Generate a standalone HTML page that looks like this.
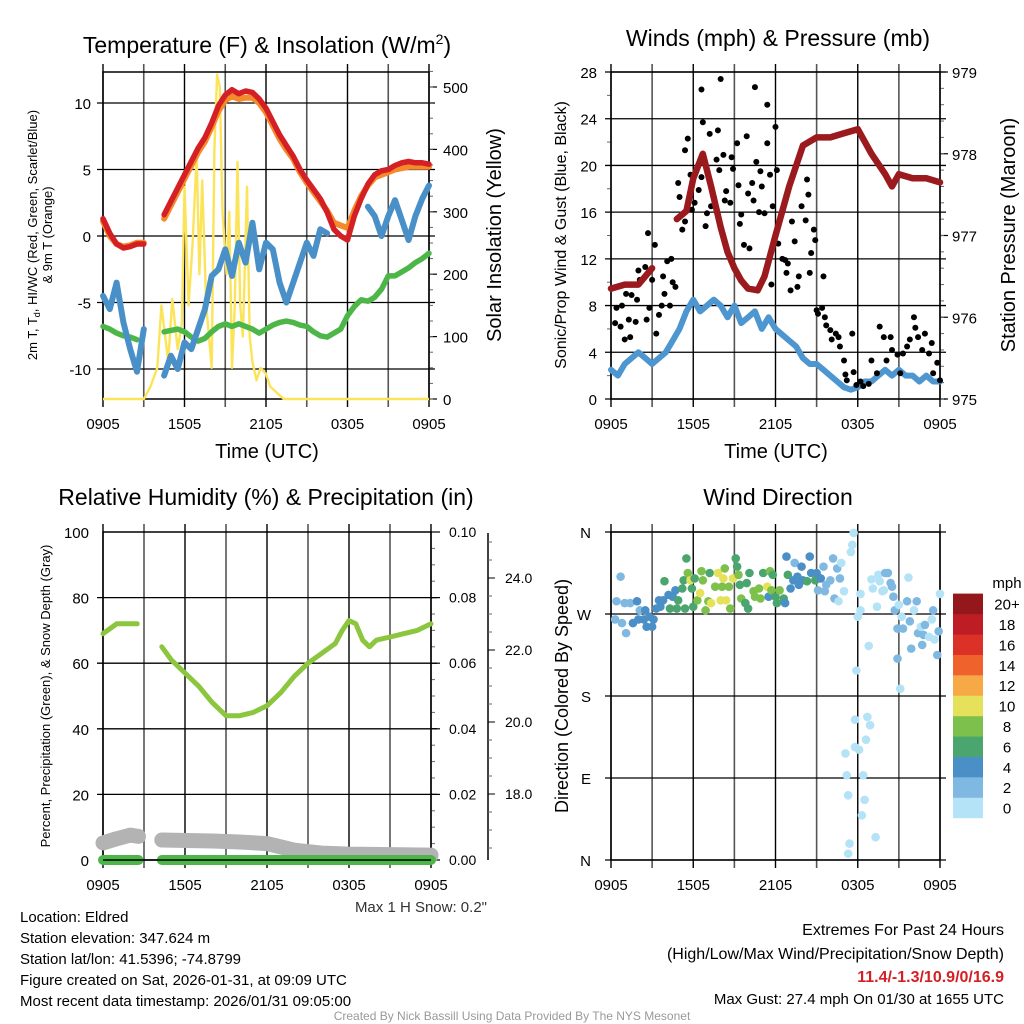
<!DOCTYPE html>
<html><head><meta charset="utf-8"><style>
body{margin:0;background:#fff;}
svg{display:block;font-family:"Liberation Sans",Arial,sans-serif;}
</style></head><body>
<svg id="c" width="1024" height="1024" viewBox="0 0 1024 1024" xmlns="http://www.w3.org/2000/svg"></svg>
<script>
// ---------- DATA ----------
const timeTicks = ["0905","1505","2105","0305","0905"];
const halfHours = [0,0.5,1,1.5,2,2.5,3,3.5,4,4.5,5,5.5,6,6.5,7,7.5,8,8.5,9,9.5,10,10.5,11,11.5,12,12.5,13,13.5,14,14.5,15,15.5,16,16.5,17,17.5,18,18.5,19,19.5,20,20.5,21,21.5,22,22.5,23,23.5,24];
const tempRed = [1.3,0.2,-0.6,-0.9,-0.8,-0.6,-0.6,null,null,1.6,2.6,3.6,4.6,5.6,6.6,7.4,8.5,9.8,10.6,11.0,10.7,10.9,10.8,10.3,9.6,8.6,7.6,6.8,6.0,5.0,4.2,3.5,2.8,1.8,0.5,0.0,-0.3,1.5,2.8,3.9,4.6,4.9,5.0,5.3,5.5,5.6,5.5,5.5,5.4];
const temp9m = [1.1,0.0,-0.6,-0.8,-0.7,-0.5,-0.5,null,null,1.3,2.3,3.3,4.3,5.3,6.3,7.1,8.2,9.4,10.2,10.5,10.3,10.4,10.4,10.0,9.3,8.3,7.3,6.5,5.8,4.8,4.0,3.3,2.6,1.9,1.0,0.8,0.6,1.9,3.0,3.8,4.4,4.6,4.8,5.0,5.1,5.2,5.2,5.2,5.2];
const tempGreen = [-6.8,-7.0,-7.3,-7.5,-7.6,-7.8,null,null,null,-7.2,-7.1,-7.0,-7.2,-7.6,-7.9,-7.7,-7.2,-6.8,-6.6,-6.8,-6.6,-6.8,-7.0,-7.3,-7.0,-6.7,-6.5,-6.4,-6.5,-6.7,-6.8,-7.2,-7.5,-7.6,-7.3,-7.0,-6.0,-5.3,-4.8,-4.9,-4.6,-4.0,-3.0,-3.0,-2.7,-2.4,-2.0,-1.7,-1.3];
const tempBlue = [-4.5,-5.5,-3.5,-6.5,-8.5,-10.2,-7.0,null,null,-10.5,-9.0,-10.0,-8.0,-8.5,-7.0,-5.5,-3.0,-2.5,-1.0,-3.0,-0.5,-2.0,1.0,-2.5,-0.5,-1.0,-3.5,-5.0,-3.5,-2.0,-0.5,-1.5,0.5,0.2,null,null,null,null,null,2.2,1.5,0.0,1.5,2.7,1.2,-0.3,1.5,2.8,3.8];
const solarT = [0,3,3.5,4,4.3,4.8,5.1,5.5,5.8,6.0,6.3,6.6,6.9,7.1,7.3,7.6,8.0,8.2,8.4,8.6,8.8,9.1,9.3,9.5,9.7,9.9,10.1,10.3,10.6,10.8,11.0,11.3,11.6,12.0,12.3,13.3,24];
const solarV = [0,0,20,50,150,60,160,80,120,340,150,250,390,200,350,150,50,400,520,500,300,200,300,50,150,380,150,100,340,100,60,30,50,40,20,0,0];
const windSonic = [2.5,2,3,3.5,4,3.5,3,3.5,4,5,6,7.5,8.5,7.5,8,8.5,8,7,8,6.5,7,7.5,6,7,6,5.5,5,4.5,3.5,3,3,2.5,2,1.5,1,0.8,1,1.5,1.5,2,2.5,2,2.5,2,2,1.5,2,1.5,1.5];
const presT = [0,1,2,3,3.2,4.8,5.5,6,6.7,7.3,8,8.5,9,9.5,10,10.7,11.2,12,13,14,15,16,17,18,19,20,20.5,21,22,23,24];
const presV = [976.35,976.4,976.4,976.6,null,977.2,977.3,977.7,978.0,977.6,977.1,976.8,976.6,976.45,976.35,976.33,976.5,977.0,977.6,978.1,978.2,978.2,978.25,978.3,978.0,977.75,977.6,977.75,977.7,977.7,977.65];
const gustH = [0.3,0.4,0.7,0.8,1.0,1.1,1.3,1.4,1.5,1.8,1.9,2.0,2.1,2.5,2.6,2.7,2.8,3.0,3.2,3.3,3.5,3.7,3.8,3.9,4.1,4.3,4.4,4.5,4.7,4.9,5.0,5.2,5.4,5.4,5.6,5.8,5.9,6.1,6.4,6.6,6.6,6.7,6.9,7.0,7.2,7.3,7.5,7.7,7.8,7.9,8.0,8.2,8.3,8.4,8.7,8.8,8.9,9.2,9.3,9.4,9.5,9.7,9.9,10.0,10.1,10.3,10.4,10.5,10.6,10.8,10.9,11.0,11.2,11.4,11.4,11.6,11.7,11.8,12.0,12.1,12.2,12.5,12.7,12.8,12.9,13.1,13.2,13.4,13.6,13.7,13.9,14.2,14.3,14.4,14.5,14.6,14.8,14.9,15.0,15.1,15.4,15.5,15.6,15.7,16.0,16.1,16.4,16.6,16.7,17.0,17.1,17.2,17.6,17.7,17.9,18.2,18.4,18.8,19.0,19.4,19.6,19.9,20.1,20.4,20.5,20.9,21.1,21.3,21.6,21.8,22.1,22.2,22.4,22.7,22.9,23.2,23.4,23.5,23.8,24.0];
const gustV = [6.5,7.8,6.2,8.0,5.1,9.0,6.8,5.3,8.9,6.6,8.5,11.0,10.2,11.3,6.8,14.2,7.8,10.2,13.2,5.6,7.2,8.0,10.5,9.0,11.8,8.0,12.0,10.0,9.6,18.5,17.3,14.5,15.2,21.3,22.3,19.2,16.2,16.8,17.9,26.5,19.0,23.7,14.8,15.9,22.7,16.5,17.3,20.5,23.0,19.6,27.4,20.9,17.0,17.8,16.8,20.7,19.7,21.9,18.3,15.0,15.8,13.2,22.5,17.6,12.9,18.5,17.0,26.7,20.3,16.0,19.5,18.2,15.9,21.9,25.2,19.2,9.8,16.5,23.3,19.6,13.3,12.0,11.9,10.8,11.6,9.3,15.2,13.5,9.6,10.5,16.5,15.3,18.8,17.5,10.8,12.5,14.5,13.6,7.6,7.3,7.8,10.5,7.0,6.3,5.9,5.1,5.6,5.3,4.5,3.3,2.1,1.6,5.6,2.3,1.2,1.5,1.1,1.3,3.3,2.2,6.2,5.3,3.3,5.3,4.2,3.8,2.2,3.9,4.5,5.1,7.0,6.1,5.3,4.2,5.6,3.9,4.8,2.2,3.1,1.6];
const rhT = [0,1,2.5,2.6,4.3,5,6,7,8,9,10,11,12,13,14,15,16,17,17.5,18,18.5,19,19.5,20,21,22,23,24];
const rhV = [69,72,72,null,65,61,57,53,48,44,44,45,47,51,56,60,63,66,70,73,72,67,65,67,68,69,70,72];
const snowT = [0,1,2,2.6,2.7,4.3,8,10,12,14,16,18,24];
const snowV = [5.2,6.5,7.6,7.2,null,6.1,5.8,5.5,5.0,3.0,2.1,1.8,1.5];
const precipT = [0,2.6,2.7,4.3,24];
const precipV = [0,0,null,0,0];
const dirH = [0.3,0.4,0.7,0.8,1.0,1.1,1.4,1.6,1.9,2.0,2.1,2.4,2.5,2.6,2.8,3.0,3.1,3.3,3.5,3.6,3.8,3.9,4.2,4.3,4.5,4.7,4.8,4.9,5.2,5.3,5.4,5.5,5.6,5.8,5.9,6.0,6.1,6.3,6.5,6.6,6.7,6.9,7.1,7.2,7.3,7.6,7.8,8.0,8.1,8.2,8.3,8.4,8.6,8.7,8.9,9.1,9.2,9.3,9.4,9.5,9.8,9.9,10.0,10.1,10.4,10.5,10.8,10.9,11.1,11.4,11.5,11.6,11.7,11.8,12.0,12.1,12.3,12.6,12.7,12.8,12.9,13.1,13.3,13.4,13.6,13.7,13.9,14.0,14.3,14.5,14.6,14.9,15.0,15.1,15.3,15.5,15.6,15.7,16.0,16.2,16.3,16.5,16.6,16.7,16.8,17.0,17.1,17.2,17.3,17.4,17.3,17.5,17.6,17.7,17.8,17.8,17.9,18.0,18.1,18.2,18.2,18.3,18.4,18.5,18.6,18.7,18.8,18.9,19.0,19.1,19.3,19.4,19.5,19.6,19.8,19.9,20.0,20.2,20.4,20.5,20.6,20.7,20.9,20.9,21.0,21.1,21.2,21.3,21.6,21.7,21.8,21.9,22.1,22.3,22.4,22.6,22.7,22.8,22.9,23.2,23.4,23.5,23.6,23.8,23.9,24.0];
const dirDeg = [264,284,311,260,282,249,282,260,284,264,274,264,274,256,267,256,264,276,285,278,285,306,291,276,289,296,276,285,298,307,276,331,315,307,298,278,309,285,293,317,307,274,284,315,282,300,315,285,300,309,320,285,300,276,309,331,322,313,302,287,282,304,276,315,295,289,298,287,315,300,289,317,296,313,289,282,296,287,282,333,313,298,307,326,311,302,322,307,306,333,315,307,315,296,309,322,295,302,307,331,287,320,284,309,326,295,117,93,71,18,7,338,346,359,154,124,208,267,121,274,292,49,93,66,132,157,235,148,308,298,25,278,313,306,295,296,315,315,304,300,289,274,254,221,280,188,267,254,284,310,262,232,274,284,249,256,236,247,258,245,264,274,242,225,251,292];
const dirSpd = [3,3,3,3,3,3,3,5,5,5,3,5,5,5,5,5,5,5,5,5,5,7,5,7,5,5,7,7,7,7,7,7,9,11,7,7,7,9,11,9,9,9,9,7,11,9,11,11,9,11,9,11,9,9,11,7,7,9,7,9,7,7,7,7,9,9,9,9,7,11,5,9,9,7,7,7,9,7,5,5,7,5,5,3,5,5,5,5,7,5,5,7,5,3,5,3,3,3,3,3,3,3,1,3,1,1,1,1,1,1,1,1,1,1,1,1,1,1,1,1,1,1,1,1,1,1,1,1,1,1,1,1,1,1,1,1,3,3,3,3,3,3,3,3,1,1,1,3,3,1,3,3,1,3,3,1,3,3,3,1,1,3,1,3,3,1,1,1,1];
const cbLabels = ["0","2","4","6","8","10","12","14","16","18","20+"];
const cbColors = ["#b4e2f7","#7fb9e2","#4a8fc6","#4aa66e","#7dc14c","#e6e15b","#f6a945","#f0622b","#dc3127","#be1d26","#93171b"];
const p1Left = [-10,-5,0,5,10];
const p1Right = [0,100,200,300,400,500];
const p2Left = [0,4,8,12,16,20,24,28];
const p2Right = [975,976,977,978,979];
const p3Left = [0,20,40,60,80,100];
const p3Right = ["0.00","0.02","0.04","0.06","0.08","0.10"];
const p3Snow = ["18.0","20.0","22.0","24.0"];
const dirLabels = ["N","E","S","W","N"];

// ---------- HELPERS ----------
const svg = document.getElementById('c');
const NS = "http://www.w3.org/2000/svg";
function mk(tag, attrs, parent){ const e=document.createElementNS(NS,tag); for(const k in attrs) e.setAttribute(k,attrs[k]); (parent||svg).appendChild(e); return e; }
function txt(s,x,y,size,anchor,parent,extra){ const e=mk('text',Object.assign({x:x,y:y,'font-size':size,'text-anchor':anchor||'middle',fill:'#000'},extra||{}),parent); e.textContent=s; return e; }
function linePath(xs,ys,fx,fy){ let d='',pen=false; for(let i=0;i<xs.length;i++){ if(ys[i]===null||ys[i]===undefined){pen=false;continue;} d+=(pen?'L':'M')+fx(xs[i]).toFixed(1)+','+fy(ys[i]).toFixed(1); pen=true;} return d; }
function timeAxis(g,X0,X1,Y0,Y1,fx){
  for(let h=0;h<=24;h+=3){ const x=fx(h); const l=mk('line',{x1:x,y1:Y0-8,x2:x,y2:Y1+8,stroke:(h%6==0?'#000':'#555'),'stroke-width':(h%6==0?1.4:1.6)},g);
      }
  timeTicks.forEach((t,i)=>{ const e=txt(t,fx(i*6),Y1+30,15,'middle',g);   });
}
function hgrid(g,X0,X1,y,ext){ const l=mk('line',{x1:X0-6,y1:y,x2:X1+(ext||6),y2:y,stroke:'#000','stroke-width':1.3},g);   }

// ---------- PANEL 1 ----------
(function(){
  const X0=103,X1=429,Y0=72,Y1=399;
  const g=mk('g',{});  
  const fx=h=>X0+(X1-X0)*h/24, fy=v=>236-v*13.3, fs=v=>Y1-v*(Y1-87)/500;
  timeAxis(g,X0,X1,Y0,Y1,fx);
  p1Left.forEach(v=>{ hgrid(g,X0,X1,fy(v)); const e=txt(String(v),X0-12,fy(v)+6,15,'end',g);   });
  p1Right.forEach(v=>{ const e=txt(String(v),X1+14,fs(v)+6,15,'start',g);   mk('line',{x1:X1,y1:fs(v),x2:X1+8,y2:fs(v),stroke:'#000','stroke-width':1.2},g); });
  for(let v=0;v<=525;v+=25){ mk('line',{x1:X1,y1:fs(v),x2:X1+4,y2:fs(v),stroke:'#666','stroke-width':1},g); }
  mk('rect',{x:X0,y:Y0,width:X1-X0,height:Y1-Y0,fill:'none',stroke:'#000','stroke-width':1.5},g);
  const yl=mk('path',{d:linePath(solarT,solarV,fx,fs),fill:'none',stroke:'#fce45a','stroke-width':2.4,'stroke-linejoin':'round'},g);  
  const gl=mk('path',{d:linePath(halfHours,tempGreen,fx,fy),fill:'none',stroke:'#4cb748','stroke-width':5.5,'stroke-linecap':'round','stroke-linejoin':'round'},g);  
  const bl=mk('path',{d:linePath(halfHours,tempBlue,fx,fy),fill:'none',stroke:'#4a90c8','stroke-width':6,'stroke-linecap':'round','stroke-linejoin':'round'},g);  
  const ol=mk('path',{d:linePath(halfHours,temp9m,fx,fy),fill:'none',stroke:'#f58a2c','stroke-width':6,'stroke-linecap':'round','stroke-linejoin':'round'},g);  
  const rl=mk('path',{d:linePath(halfHours,tempRed,fx,fy),fill:'none',stroke:'#d42024','stroke-width':5.5,'stroke-linecap':'round','stroke-linejoin':'round'},g);  
  const t=txt('',267,53,23,'middle',g);  
  t.innerHTML='Temperature (F) &amp; Insolation (W/m<tspan dy="-9" font-size="14">2</tspan><tspan dy="9">)</tspan>';
  const a=txt('Time (UTC)',267,458,20,'middle',g);  
  const l1=txt('',0,0,13,'middle',g,{transform:'translate(37,235) rotate(-90)'});  
  l1.innerHTML='2m T, T<tspan font-size="9" dy="3">d</tspan><tspan dy="-3">, HI/WC (Red, Green, Scarlet/Blue)</tspan>';
  const l2=txt('& 9m T (Orange)',0,0,13,'middle',g,{transform:'translate(52,235) rotate(-90)'});  
  const r=txt('Solar Insolation (Yellow)',0,0,20,'middle',g,{transform:'translate(501,235) rotate(-90)'});  
})();

// ---------- PANEL 2 ----------
(function(){
  const X0=611,X1=940,Y0=72,Y1=399;
  const g=mk('g',{});  
  const fx=h=>X0+(X1-X0)*h/24, fy=v=>Y1-v*(Y1-Y0)/28, fp=v=>Y1-(v-975)*(Y1-Y0)/4;
  timeAxis(g,X0,X1,Y0,Y1,fx);
  p2Left.forEach(v=>{ hgrid(g,X0,X1,fy(v),0); const e=txt(String(v),X0-14,fy(v)+6,15,'end',g);   });
  for(let v=2;v<28;v+=4) mk('line',{x1:X0-4,y1:fy(v),x2:X0,y2:fy(v),stroke:'#666'},g);
  p2Right.forEach(v=>{ mk('line',{x1:X1,y1:fp(v),x2:X1+8,y2:fp(v),stroke:'#000','stroke-width':1.2},g); const e=txt(String(v),X1+12,fp(v)+6,15,'start',g);   });
  for(let v=975;v<979;v+=0.2) mk('line',{x1:X1,y1:fp(v),x2:X1+4,y2:fp(v),stroke:'#666'},g);
  mk('rect',{x:X0,y:Y0,width:X1-X0,height:Y1-Y0,fill:'none',stroke:'#000','stroke-width':1.5},g);
  const bl=mk('path',{d:linePath(halfHours,windSonic,fx,fy),fill:'none',stroke:'#4d96d0','stroke-width':6,'stroke-linecap':'round','stroke-linejoin':'round'},g);  
  gustH.forEach((h,i)=>{ const c=mk('circle',{cx:fx(h),cy:fy(gustV[i]),r:3,fill:'#000'},g);
    
     });
  const pl=mk('path',{d:linePath(presT,presV,fx,fp),fill:'none',stroke:'#9a1a1d','stroke-width':6.5,'stroke-linecap':'round','stroke-linejoin':'round'},g);  
  const t=txt('Winds (mph) & Pressure (mb)',778,46,23,'middle',g);  
  const a=txt('Time (UTC)',776,458,20,'middle',g);  
  const l=txt('Sonic/Prop Wind & Gust (Blue, Black)',0,0,16,'middle',g,{transform:'translate(566,235) rotate(-90)'});  
  const r=txt('Station Pressure (Maroon)',0,0,20,'middle',g,{transform:'translate(1015,235) rotate(-90)'});  
})();

// ---------- PANEL 3 ----------
(function(){
  const X0=103,X1=431,Y0=532,Y1=860;
  const g=mk('g',{});  
  const fx=h=>X0+(X1-X0)*h/24, fy=v=>Y1-v*(Y1-Y0)/100;
  const fsn=v=>794-(v-18)*36;
  timeAxis(g,X0,X1,Y0,Y1,fx);
  p3Left.forEach(v=>{ if(v>0&&v<100) hgrid(g,X0,X1,fy(v)); const e=txt(String(v),X0-14,fy(v)+6,15,'end',g);   });
  p3Right.forEach((s,i)=>{ const y=fy(i*20); mk('line',{x1:X1,y1:y,x2:X1+9,y2:y,stroke:'#000','stroke-width':1.2},g); const e=txt(s,X1+18,y+5,14,'start',g);   });
  for(let v=5;v<100;v+=5) if(v%20) mk('line',{x1:X1,y1:fy(v),x2:X1+4,y2:fy(v),stroke:'#666'},g);
  mk('line',{x1:488,y1:533,x2:488,y2:860,stroke:'#000','stroke-width':1.5},g);
  p3Snow.forEach((s,i)=>{ const y=fsn(18+2*i); mk('line',{x1:488,y1:y,x2:495,y2:y,stroke:'#000'},g); const e=txt(s,505,y+5,14,'start',g);   });
  for(let v=16.5;v<=25;v+=0.5){ const y=fsn(v); if(y>535&&y<858&&(v%2)) mk('line',{x1:488,y1:y,x2:492,y2:y,stroke:'#666'},g); }
  mk('rect',{x:X0,y:Y0,width:X1-X0,height:Y1-Y0,fill:'none',stroke:'#000','stroke-width':1.5},g);
  const sl=mk('path',{d:linePath(snowT,snowV,fx,fy),fill:'none',stroke:'#b3b3b3','stroke-width':15,'stroke-linecap':'round','stroke-linejoin':'round'},g);  
  const pl=mk('path',{d:linePath(precipT,precipV,fx,fy),fill:'none',stroke:'#4cb748','stroke-width':10,'stroke-linecap':'round'},g);  
  mk('line',{x1:X0,y1:Y1,x2:X1,y2:Y1,stroke:'#000','stroke-width':1.5},g);
  const rl=mk('path',{d:linePath(rhT,rhV,fx,fy),fill:'none',stroke:'#8cc63f','stroke-width':5,'stroke-linecap':'round','stroke-linejoin':'round'},g);  
  const t=txt('Relative Humidity (%) & Precipitation (in)',266,505,23,'middle',g);  
  const l=txt('Percent, Precipitation (Green), & Snow Depth (Gray)',0,0,13,'middle',g,{transform:'translate(50,696) rotate(-90)'});  
  const m=txt('Max 1 H Snow: 0.2"',487,912,15,'end',g,{fill:'#333'});  
})();

// ---------- PANEL 4 ----------
(function(){
  const X0=611,X1=940,Y0=532,Y1=860;
  const g=mk('g',{});  
  const fx=h=>X0+(X1-X0)*h/24, fy=d=>Y1-d*(Y1-Y0)/360;
  timeAxis(g,X0,X1,Y0,Y1,fx);
  dirLabels.forEach((s,i)=>{ const y=fy(i*90); hgrid(g,X0,X1,y,0); const e=txt(s,X0-20,y+6,15,'end',g);   });
  mk('rect',{x:X0,y:Y0,width:X1-X0,height:Y1-Y0,fill:'none',stroke:'#000','stroke-width':1.5},g);
  dirH.forEach((h,i)=>{ const bin=Math.min(10,Math.floor(dirSpd[i]/2)); const c=mk('circle',{cx:fx(h),cy:fy(dirDeg[i]),r:4.3,fill:cbColors[bin]},g);
    
     });
  cbColors.forEach((col,i)=>{ const y=818-(i+1)*20.4; const r=mk('rect',{x:953,y:y,width:30,height:20.6,fill:col},g);
    
    
    const e=txt(cbLabels[i],1007,y+16,15,'middle',g);   });
  const u=txt('mph',1007,588,15,'middle',g);  
  const t=txt('Wind Direction',778,505,23,'middle',g);  
  const l=txt('Direction (Colored By Speed)',0,0,18,'middle',g,{transform:'translate(568,696) rotate(-90)'});  
})();

// ---------- FOOTER ----------
(function(){
  const g=mk('g',{});  
  const left=["Location: Eldred","Station elevation: 347.624 m","Station lat/lon: 41.5396; -74.8799","Figure created on Sat, 2026-01-31, at 09:09 UTC","Most recent data timestamp: 2026/01/31 09:05:00"];
  left.forEach((s,i)=>{ const e=txt(s,20,922+i*21,15,'start',g);   });
  const a=txt('Extremes For Past 24 Hours',1004,935,16,'end',g);  
  const b=txt('(High/Low/Max Wind/Precipitation/Snow Depth)',1004,959,16,'end',g);  
  const c=txt('11.4/-1.3/10.9/0/16.9',1004,982,16,'end',g,{fill:'#d42024','font-weight':'bold'});  
  const d=txt('Max Gust: 27.4 mph On 01/30 at 1655 UTC',1004,1004,15,'end',g);  
  const e=txt('Created By Nick Bassill Using Data Provided By The NYS Mesonet',512,1020,12,'middle',g,{fill:'#999'});  
})();
</script>
</body></html>
